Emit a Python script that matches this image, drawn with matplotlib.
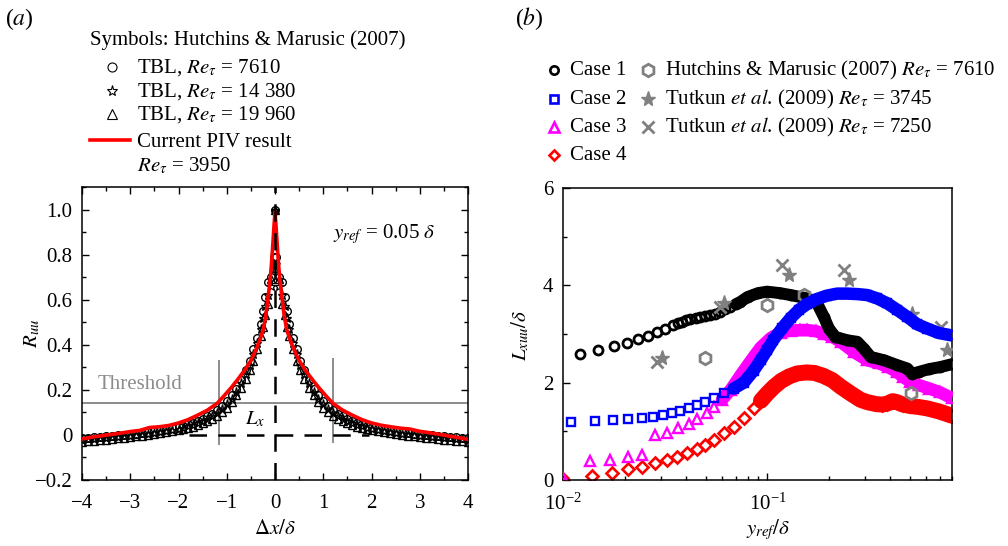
import numpy as np
import matplotlib
matplotlib.use("Agg")
import matplotlib.pyplot as plt
from matplotlib.lines import Line2D
from matplotlib.ticker import MultipleLocator, FixedLocator, FixedFormatter, LogLocator, NullFormatter

plt.rcParams['font.family'] = ['Liberation Serif', 'DejaVu Serif']
plt.rcParams['mathtext.fontset'] = 'stix'
plt.rcParams['font.size'] = 15

# ---------------- panel (a) data ----------------
# Hutchins & Marusic (2007), positive separations (curves are symmetric about 0)
hm_dx = [0.0, 0.03, 0.08, 0.15, 0.2, 0.25, 0.3, 0.375, 0.45, 0.525, 0.6, 0.7, 0.8, 0.9, 1.0,
         1.1, 1.2, 1.3, 1.4, 1.5, 1.6, 1.7, 1.8, 1.9, 2.0, 2.125, 2.25, 2.375, 2.5, 2.625,
         2.75, 2.875, 3.0, 3.125, 3.25, 3.375, 3.5, 3.625, 3.75, 3.875, 4.0]
r_7610 = [1.0, 0.79, 0.70, 0.68, 0.61, 0.55, 0.49, 0.43, 0.38, 0.33, 0.29, 0.245, 0.205, 0.175, 0.15,
          0.128, 0.11, 0.095, 0.082, 0.071, 0.062, 0.054, 0.047, 0.041, 0.036, 0.03, 0.025, 0.02,
          0.016, 0.012, 0.009, 0.006, 0.003, 0.0, -0.002, -0.004, -0.006, -0.008, -0.01, -0.012, -0.014]
r_14380 = [1.0, 0.76, 0.66, 0.62, 0.57, 0.52, 0.47, 0.41, 0.36, 0.31, 0.27, 0.23, 0.19, 0.16, 0.135,
           0.115, 0.098, 0.084, 0.072, 0.062, 0.053, 0.045, 0.038, 0.032, 0.027, 0.021, 0.016, 0.012,
           0.008, 0.005, 0.002, -0.001, -0.004, -0.006, -0.009, -0.011, -0.013, -0.015, -0.017, -0.019, -0.021]
r_19960 = [1.0, 0.74, 0.69, 0.58, 0.53, 0.48, 0.44, 0.38, 0.33, 0.29, 0.25, 0.21, 0.175, 0.145, 0.12,
           0.1, 0.085, 0.072, 0.061, 0.052, 0.044, 0.037, 0.031, 0.026, 0.021, 0.016, 0.011, 0.007,
           0.003, 0.0, -0.003, -0.006, -0.009, -0.012, -0.015, -0.018, -0.021, -0.024, -0.026, -0.028, -0.03]

# current PIV result
piv_dx = [-4.0, -3.8, -3.6, -3.4, -3.2, -3.0, -2.8, -2.6, -2.4, -2.2, -2.0, -1.8, -1.6, -1.4, -1.2,
          -1.05, -0.9, -0.78, -0.62, -0.5, -0.4, -0.3, -0.24, -0.19, -0.15, -0.11, -0.08, -0.05, -0.02,
          0.0, 0.02, 0.05, 0.08, 0.11, 0.15, 0.19, 0.24, 0.3, 0.4, 0.5, 0.62, 0.78, 0.9, 1.05, 1.2,
          1.4, 1.6, 1.8, 2.0, 2.2, 2.4, 2.6, 2.8, 3.0, 3.2, 3.4, 3.6, 3.8, 4.0]
piv_r = [-0.018, -0.01, -0.004, 0.002, 0.008, 0.015, 0.02, 0.033, 0.036, 0.042, 0.053, 0.068, 0.088, 0.11, 0.14,
         0.175, 0.212, 0.244, 0.29, 0.33, 0.375, 0.43, 0.47, 0.53, 0.6, 0.67, 0.74, 0.83, 0.93,
         0.99, 0.93, 0.83, 0.74, 0.67, 0.6, 0.53, 0.47, 0.43, 0.375, 0.33, 0.29, 0.244, 0.212, 0.175, 0.14,
         0.11, 0.088, 0.068, 0.053, 0.043, 0.036, 0.03, 0.026, 0.016, 0.01, 0.003, -0.005, -0.012, -0.02]

threshold = 0.14
lx_left, lx_right = -1.17, 1.21

# ---------------- panel (b) data ----------------
y1 = [0.0121, 0.0149, 0.0177, 0.0205, 0.0234, 0.0261, 0.0288, 0.0316, 0.0347, 0.0365, 0.0382, 0.0400,
      0.0420, 0.0445, 0.0470, 0.0497, 0.0526, 0.0557, 0.0589, 0.0623, 0.0659, 0.070, 0.0738, 0.080,
      0.090, 0.0997, 0.115, 0.130, 0.157, 0.175, 0.189, 0.200, 0.215, 0.246, 0.275, 0.296, 0.320,
      0.372, 0.432, 0.484, 0.510, 0.550, 0.620, 0.700, 0.800]
L1 = [2.58, 2.68, 2.75, 2.81, 2.89, 2.96, 3.04, 3.11, 3.18, 3.22, 3.25, 3.28,
      3.30, 3.33, 3.35, 3.37, 3.39, 3.42, 3.46, 3.51, 3.56, 3.61, 3.66, 3.76,
      3.84, 3.87, 3.84, 3.80, 3.73, 3.63, 3.35, 3.11, 2.94, 2.87, 2.84, 2.70, 2.53,
      2.46, 2.36, 2.29, 2.18, 2.22, 2.28, 2.32, 2.38]

y2 = [0.0110, 0.01435, 0.01766, 0.0209, 0.0243, 0.0277, 0.0310, 0.0341, 0.0375, 0.0412, 0.0452,
      0.0497, 0.0546, 0.0610, 0.0684, 0.0766, 0.0857, 0.0930, 0.1000, 0.107, 0.118, 0.130, 0.143,
      0.157, 0.175, 0.196, 0.22, 0.246, 0.275, 0.308, 0.345, 0.386, 0.43, 0.484, 0.54, 0.607, 0.69, 0.80]
L2 = [1.20, 1.22, 1.23, 1.25, 1.27, 1.30, 1.33, 1.37, 1.42, 1.47, 1.54,
      1.61, 1.68, 1.78, 1.88, 2.00, 2.25, 2.47, 2.68, 2.88, 3.12, 3.33, 3.50,
      3.62, 3.72, 3.79, 3.83, 3.83, 3.82, 3.80, 3.73, 3.63, 3.50, 3.35, 3.20, 3.11, 3.02, 2.97]

y3 = [0.0098, 0.01355, 0.0170, 0.0209, 0.0243, 0.0283, 0.0322, 0.0367, 0.0412, 0.0452, 0.0506, 0.055,
      0.060, 0.066, 0.0738, 0.082, 0.0925, 0.104, 0.116, 0.130, 0.145, 0.157, 0.172, 0.189, 0.208,
      0.228, 0.265, 0.308, 0.35, 0.39, 0.43, 0.46, 0.50, 0.55, 0.62, 0.70, 0.80]
L3 = [0.13, 0.40, 0.42, 0.47, 0.51, 0.92, 0.97, 1.06, 1.16, 1.25, 1.37, 1.50,
      1.65, 1.85, 2.15, 2.42, 2.72, 2.92, 3.03, 3.07, 3.08, 3.08, 3.06, 3.01, 2.94,
      2.84, 2.63, 2.46, 2.40, 2.32, 2.22, 2.12, 2.02, 1.95, 1.88, 1.80, 1.68]

y4 = [0.0099, 0.01384, 0.01734, 0.0209, 0.0243, 0.0283, 0.0322, 0.0360, 0.0404, 0.0452, 0.0497,
      0.0546, 0.0610, 0.0684, 0.0766, 0.0857, 0.0930, 0.1000, 0.108, 0.117, 0.128, 0.140, 0.155,
      0.170, 0.188, 0.208, 0.228, 0.255, 0.285, 0.308, 0.340, 0.365, 0.386, 0.41, 0.43, 0.46,
      0.50, 0.55, 0.607, 0.69, 0.80]
L4 = [0.04, 0.08, 0.15, 0.22, 0.27, 0.34, 0.41, 0.48, 0.55, 0.63, 0.72,
      0.82, 0.96, 1.09, 1.27, 1.47, 1.63, 1.78, 1.92, 2.04, 2.13, 2.19, 2.21,
      2.20, 2.14, 2.05, 1.92, 1.78, 1.65, 1.60, 1.56, 1.55, 1.57, 1.62, 1.60, 1.55,
      1.52, 1.50, 1.47, 1.41, 1.32]

hm_y = [0.0497, 0.0997, 0.151, 0.502]
hm_L = [2.50, 3.59, 3.80, 1.78]
tut3745_y = [0.0305, 0.061, 0.127, 0.251, 0.512, 0.76]
tut3745_L = [2.50, 3.63, 4.21, 4.11, 3.42, 2.67]
tut7250_y = [0.0288, 0.0589, 0.118, 0.237, 0.705]
tut7250_L = [2.43, 3.56, 4.41, 4.31, 3.15]

W, H = 1008, 546
fig = plt.figure(figsize=(W / 100, H / 100), dpi=100)


def fx(px):
    return px / W


def fy(py):
    return 1 - py / H


# ================= (a) =================
ax1 = fig.add_axes([fx(82), fy(480), fx(468) - fx(82), fy(187) - fy(480)])

hm_x_full = np.concatenate([-np.array(hm_dx[::-1]), np.array(hm_dx[1:])])


def mirror(r):
    return np.concatenate([np.array(r[::-1]), np.array(r[1:])])


ax1.plot(hm_x_full, mirror(r_7610), 'o', ms=5.5, mfc='none', mec='k', mew=1.0, zorder=3)
ax1.plot(hm_x_full, mirror(r_14380), '*', ms=6.5, mfc='none', mec='k', mew=0.9, zorder=3)
ax1.plot(hm_x_full, mirror(r_19960), '^', ms=5.5, mfc='none', mec='k', mew=1.0, zorder=3)

grey_a = '#8c8c8c'
ax1.axhline(threshold, color=grey_a, lw=1.4, zorder=2)
ax1.plot([lx_left, lx_left], [-0.04, 0.33], color=grey_a, lw=1.4, zorder=2)
ax1.plot([lx_right, lx_right], [-0.03, 0.335], color=grey_a, lw=1.4, zorder=2)

ax1.plot(piv_dx, piv_r, color='#ff0000', lw=2.6, zorder=4)

ax1.plot([0, 0], [-0.2, 1.1], color='k', lw=1.8, ls=(0, (7, 4.5)), zorder=5)
ax1.plot([-1.78, 1.95], [0, 0], color='k', lw=1.8, ls=(0, (7, 4.5)), zorder=5)

ax1.text(-3.68, 0.222, 'Threshold', color=grey_a, va='center', ha='left')
ax1.text(-0.62, 0.067, r'$L_x$', va='center', ha='left')
ax1.text(1.2, 0.89, r'$y_{ref}$ = 0.05 $\delta$', va='center', ha='left')

ax1.set_xlim(-4, 4)
ax1.set_ylim(-0.2, 1.1)
ax1.xaxis.set_major_locator(MultipleLocator(1))
ax1.xaxis.set_minor_locator(MultipleLocator(0.5))
ax1.yaxis.set_major_locator(FixedLocator([-0.2, 0, 0.2, 0.4, 0.6, 0.8, 1.0]))
ax1.yaxis.set_major_formatter(FixedFormatter(['\u22120.2', '0', '0.2', '0.4', '0.6', '0.8', '1.0']))
ax1.yaxis.set_minor_locator(MultipleLocator(0.1))
ax1.tick_params(which='both', direction='in', top=True, right=True, width=1.0)
ax1.tick_params(which='major', length=5, pad=7)
ax1.tick_params(axis='x', which='major', pad=10)
ax1.tick_params(which='minor', length=3)
for s in ax1.spines.values():
    s.set_linewidth(1.1)

fig.text(fx(275), fy(530), r'$\Delta x/\delta$', ha='center', va='center')
fig.text(fx(32), fy(333), r'$R_{uu}$', ha='center', va='center', rotation=90)

# legend (a)
fig.text(fx(5), fy(25), r'($a$)', fontsize=17, ha='left', va='baseline')
fig.text(fx(90), fy(45), 'Symbols: Hutchins & Marusic (2007)', ha='left', va='baseline')
leg_a = [('o', 6.5, 'TBL, $Re_{\\tau}$ = 7610', 73),
         ('*', 8, 'TBL, $Re_{\\tau}$ = 14 380', 97),
         ('^', 7, 'TBL, $Re_{\\tau}$ = 19 960', 120)]
for mk, ms, lab, yb in leg_a:
    fig.add_artist(Line2D([fx(112)], [fy(yb - 6)], marker=mk, ms=ms, mfc='none', mec='k', mew=0.8,
                          ls='none', transform=fig.transFigure))
    fig.text(fx(137), fy(yb), lab, ha='left', va='baseline')
fig.add_artist(Line2D([fx(90), fx(130)], [fy(140), fy(140)], color='#ff0000', lw=2.6,
                      transform=fig.transFigure))
fig.text(fx(137), fy(147), 'Current PIV result', ha='left', va='baseline')
fig.text(fx(137), fy(171), r'$Re_{\tau}$ = 3950', ha='left', va='baseline')

# ================= (b) =================
ax2 = fig.add_axes([fx(563), fy(480), fx(952) - fx(563), fy(188) - fy(480)])

cases = [
    (y4, L4, '#ff0000', 'D', 6.3, 1.9, 0.093, 11.5, 2),
    (y3, L3, '#ff00ff', '^', 7.5, 1.7, 0.060, 9.0, 3),
    (y1, L1, '#000000', 'o', 6.5, 2.0, 0.066, 8.6, 4),
    (y2, L2, '#0000ff', 's', 6.3, 1.7, 0.066, 9.0, 6),
]
for yy, LL, col, mk, ms, mew, ystart, lw, z in cases:
    yy = np.array(yy)
    LL = np.array(LL)
    ax2.plot(yy, LL, mk, ms=ms, mfc='none', mec=col, mew=mew, zorder=z, clip_on=True)
    sel = yy >= ystart
    ax2.plot(yy[sel], LL[sel], '-', color=col, lw=lw, solid_capstyle='round',
             solid_joinstyle='round', zorder=z)

grey_b = '#808080'
ax2.plot(hm_y, hm_L, 'h', ms=9, mfc='none', mec=grey_b, mew=2.0, zorder=5)
ax2.plot(tut3745_y, tut3745_L, '*', ms=11, mfc=grey_b, mec=grey_b, mew=1.0, zorder=5)
ax2.plot(tut7250_y, tut7250_L, 'x', ms=9, mec=grey_b, mew=2.0, zorder=5)

ax2.set_xscale('log')
ax2.set_xlim(0.01, 0.8)
ax2.set_ylim(0, 6)
ax2.xaxis.set_major_locator(LogLocator(base=10, numticks=10))
ax2.xaxis.set_minor_locator(LogLocator(base=10, subs=np.arange(2, 10), numticks=20))
ax2.xaxis.set_minor_formatter(NullFormatter())
ax2.yaxis.set_major_locator(MultipleLocator(2))
ax2.yaxis.set_minor_locator(MultipleLocator(1))
ax2.tick_params(which='both', direction='in', width=1.0)
ax2.tick_params(which='major', length=5, pad=7)
ax2.tick_params(axis='x', which='major', pad=10)
ax2.tick_params(which='minor', length=3)
for s in ax2.spines.values():
    s.set_linewidth(1.1)

fig.text(fx(768), fy(530), r'$y_{ref}/\delta$', ha='center', va='center')
fig.text(fx(520), fy(335), r'$L_{xuu}/\delta$', ha='center', va='center', rotation=90)

# legend (b)
fig.text(fx(515), fy(25), r'($b$)', fontsize=17, ha='left', va='baseline')
leg_b1 = [('o', '#000000', 6.0, 'Case 1', 70),
          ('s', '#0000ff', 5.8, 'Case 2', 99),
          ('^', '#ff00ff', 7.0, 'Case 3', 127),
          ('D', '#ff0000', 5.6, 'Case 4', 155)]
for mk, col, ms, lab, yc in leg_b1:
    fig.add_artist(Line2D([fx(554)], [fy(yc)], marker=mk, ms=ms, mfc='none', mec=col, mew=1.9,
                          ls='none', transform=fig.transFigure))
    fig.text(fx(570), fy(yc + 5), lab, ha='left', va='baseline')

leg_b2 = [('h', dict(ms=9, mfc='none', mec=grey_b, mew=2.0),
           r'Hutchins & Marusic (2007) $Re_{\tau}$ = 7610', 70),
          ('*', dict(ms=11, mfc=grey_b, mec=grey_b, mew=1.0),
           r'Tutkun $et\ al$. (2009) $Re_{\tau}$ = 3745', 99),
          ('x', dict(ms=9, mec=grey_b, mew=2.0),
           r'Tutkun $et\ al$. (2009) $Re_{\tau}$ = 7250', 127)]
for mk, kw, lab, yc in leg_b2:
    fig.add_artist(Line2D([fx(648)], [fy(yc)], marker=mk, ls='none', transform=fig.transFigure, **kw))
    fig.text(fx(665), fy(yc + 5), lab, ha='left', va='baseline')

fig.savefig('out.png', dpi=100)
